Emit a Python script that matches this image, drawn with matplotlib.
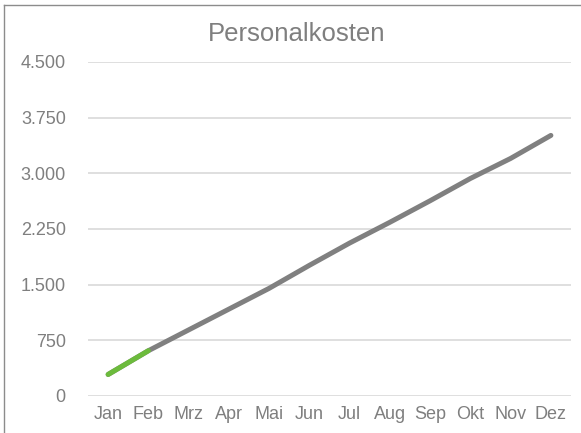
import matplotlib
matplotlib.use('Agg')
import matplotlib.pyplot as plt
from matplotlib.lines import Line2D
from matplotlib.ticker import FuncFormatter

# Daten
monate = ['Jan', 'Feb', 'Mrz', 'Apr', 'Mai', 'Jun', 'Jul', 'Aug', 'Sep', 'Okt', 'Nov', 'Dez']
kosten = [290, 610, 890, 1170, 1450, 1760, 2060, 2340, 2630, 2930, 3200, 3510]
ist_monate = ['Jan', 'Feb']
ist_kosten = [290, 610]
y_ticks = [0, 750, 1500, 2250, 3000, 3750, 4500]

plt.rcParams['font.family'] = ['Liberation Sans', 'DejaVu Sans']
txt = '#7f7f7f'

fig = plt.figure(figsize=(5.81, 4.33), dpi=100)
ax = fig.add_axes([0.1515, 0.0855, 0.8313, 0.7715])

x = list(range(len(monate)))
ax.plot(x, kosten, color='#808080', linewidth=3.6, solid_capstyle='round', zorder=3)
x_ist = [monate.index(m) for m in ist_monate]
ax.plot(x_ist, ist_kosten, color='#6cbb3c', linewidth=3.6, solid_capstyle='round', zorder=4)

ax.set_xlim(-0.5, len(monate) - 0.5)
ax.set_ylim(0, 4500)
ax.set_yticks(y_ticks)
ax.yaxis.set_major_formatter(FuncFormatter(lambda v, p: f'{int(v):,}'.replace(',', '.')))
ax.set_xticks(x)
ax.set_xticklabels(monate)
ax.grid(axis='y', color='#d9d9d9', linewidth=1.2)
ax.set_axisbelow(True)
for s in ax.spines.values():
    s.set_visible(False)
ax.tick_params(length=0, colors=txt, labelsize=13)
ax.tick_params(axis='y', pad=16)
ax.tick_params(axis='x', pad=7)

fig.text(0.511, 0.922, 'Personalkosten', ha='center', va='center', fontsize=18.5, color=txt)

# Rahmen links und oben
fig.add_artist(Line2D([0.0075, 0.0075], [0, 0.988], transform=fig.transFigure, color='#8c8c8c', linewidth=1))
fig.add_artist(Line2D([0.0075, 1], [0.988, 0.988], transform=fig.transFigure, color='#8c8c8c', linewidth=1))

plt.savefig('out.png', dpi=100)
